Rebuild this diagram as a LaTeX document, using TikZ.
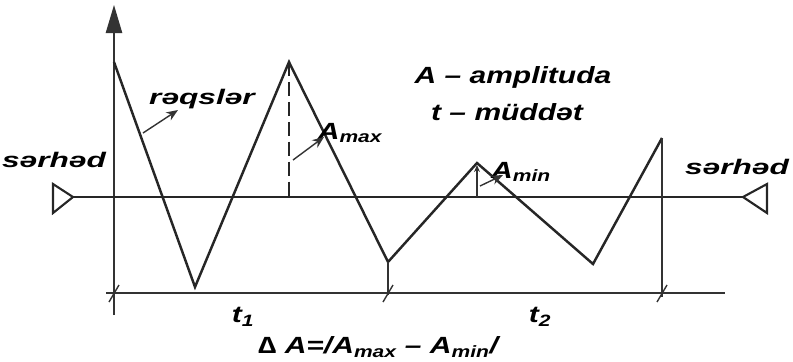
\documentclass[tikz,border=0pt]{standalone}
\usepackage{fontspec}
\setmainfont{Liberation Sans}
\newfontfamily\widebig[FakeStretch=1.28]{Liberation Sans}
\newfontfamily\widelbl[FakeStretch=1.5]{Liberation Sans}
\usetikzlibrary{arrows.meta}
\begin{document}
\begin{tikzpicture}[x=0.03cm,y=-0.03cm,
  line/.style={line width=2.1pt,black!85},
  thin/.style={line width=1.2pt,black!80},
  tri/.style={line width=1.8pt,black!85,line join=miter},
  lbl/.style={font=\widelbl\bfseries\itshape\fontsize{18}{20}\selectfont,inner sep=0pt},
  big/.style={font=\widebig\bfseries\itshape\fontsize{20}{23}\selectfont,inner sep=0pt},
  ptr/.style={thin,-{Stealth[length=10pt,width=8pt]}}]
\useasboundingbox (0,0) rectangle (793,361);
% axis
\coordinate (ax0) at (114,315);
\coordinate (ax1) at (114,5);
\draw[thin,-{Triangle[length=24pt,width=14pt]}] (ax0) -- (ax1);
% boundary line
\coordinate (bl) at (73,197);
\coordinate (br) at (743,197);
\draw[line] (bl) -- (br);
\draw[tri] (bl) -- (53,184) -- (53,213) -- cycle;
\draw[tri] (br) -- (767,184) -- (767,213) -- cycle;
% waveform
\coordinate (p0) at (114,62);
\coordinate (p1) at (195,287);
\coordinate (p2) at (289,62);
\coordinate (p3) at (388,262);
\coordinate (p4) at (477,163);
\coordinate (p5) at (593,264);
\coordinate (p6) at (662,138);
\draw[line,line join=miter] (p0) -- (p1) -- (p2) -- (p3) -- (p4) -- (p5) -- (p6);
% verticals
\coordinate (q3) at (388,295);
\coordinate (q6) at (662,297);
\draw[thin] (p3) -- (q3);
\draw[thin] (p6) -- (q6);
% time line
\coordinate (tl) at (106,293);
\coordinate (tr) at (725,293);
\draw[thin] (tl) -- (tr);
\foreach \x in {114,388,662} \draw[thin] (\x-5,302) -- (\x+5,285);
% dashed
\coordinate (d0) at (289,197);
\draw[line,dash pattern=on 12pt off 5pt] (p2) -- (d0);
% A_min arrow
\coordinate (m0) at (477,197);
\coordinate (m1) at (477,165);
\draw[thin,-{Stealth[length=6pt,width=5pt]}] (m0) -- (m1);
% labels
\node[lbl] (rq) at (202,99) {rəqslər};
\node[big] (amax) at (350,133) {A\textsubscript{max}};
\node[big] (amin) at (521,172) {A\textsubscript{min}};
\node[big] (amp) at (513,77) {A – amplituda};
\node[big] (mud) at (507,112) {t – müddət};
\node[lbl] (sl) at (54,160) {sərhəd};
\node[lbl] (sr) at (737,167) {sərhəd};
\node[big] (t1) at (243,317) {t\textsubscript{1}};
\node[big] (t2) at (540,317) {t\textsubscript{2}};
\node[big] (da) at (378,347) {∆ A=/A\textsubscript{max} – A\textsubscript{min}/};
% pointers
\coordinate (r0) at (143,133);
\draw[ptr] (r0) -- (178,110);
\coordinate (a0) at (293,160);
\draw[ptr] (a0) -- (324,137);
\coordinate (n0) at (480,186);
\draw[ptr] (n0) -- (503,175);
\end{tikzpicture}
\end{document}
